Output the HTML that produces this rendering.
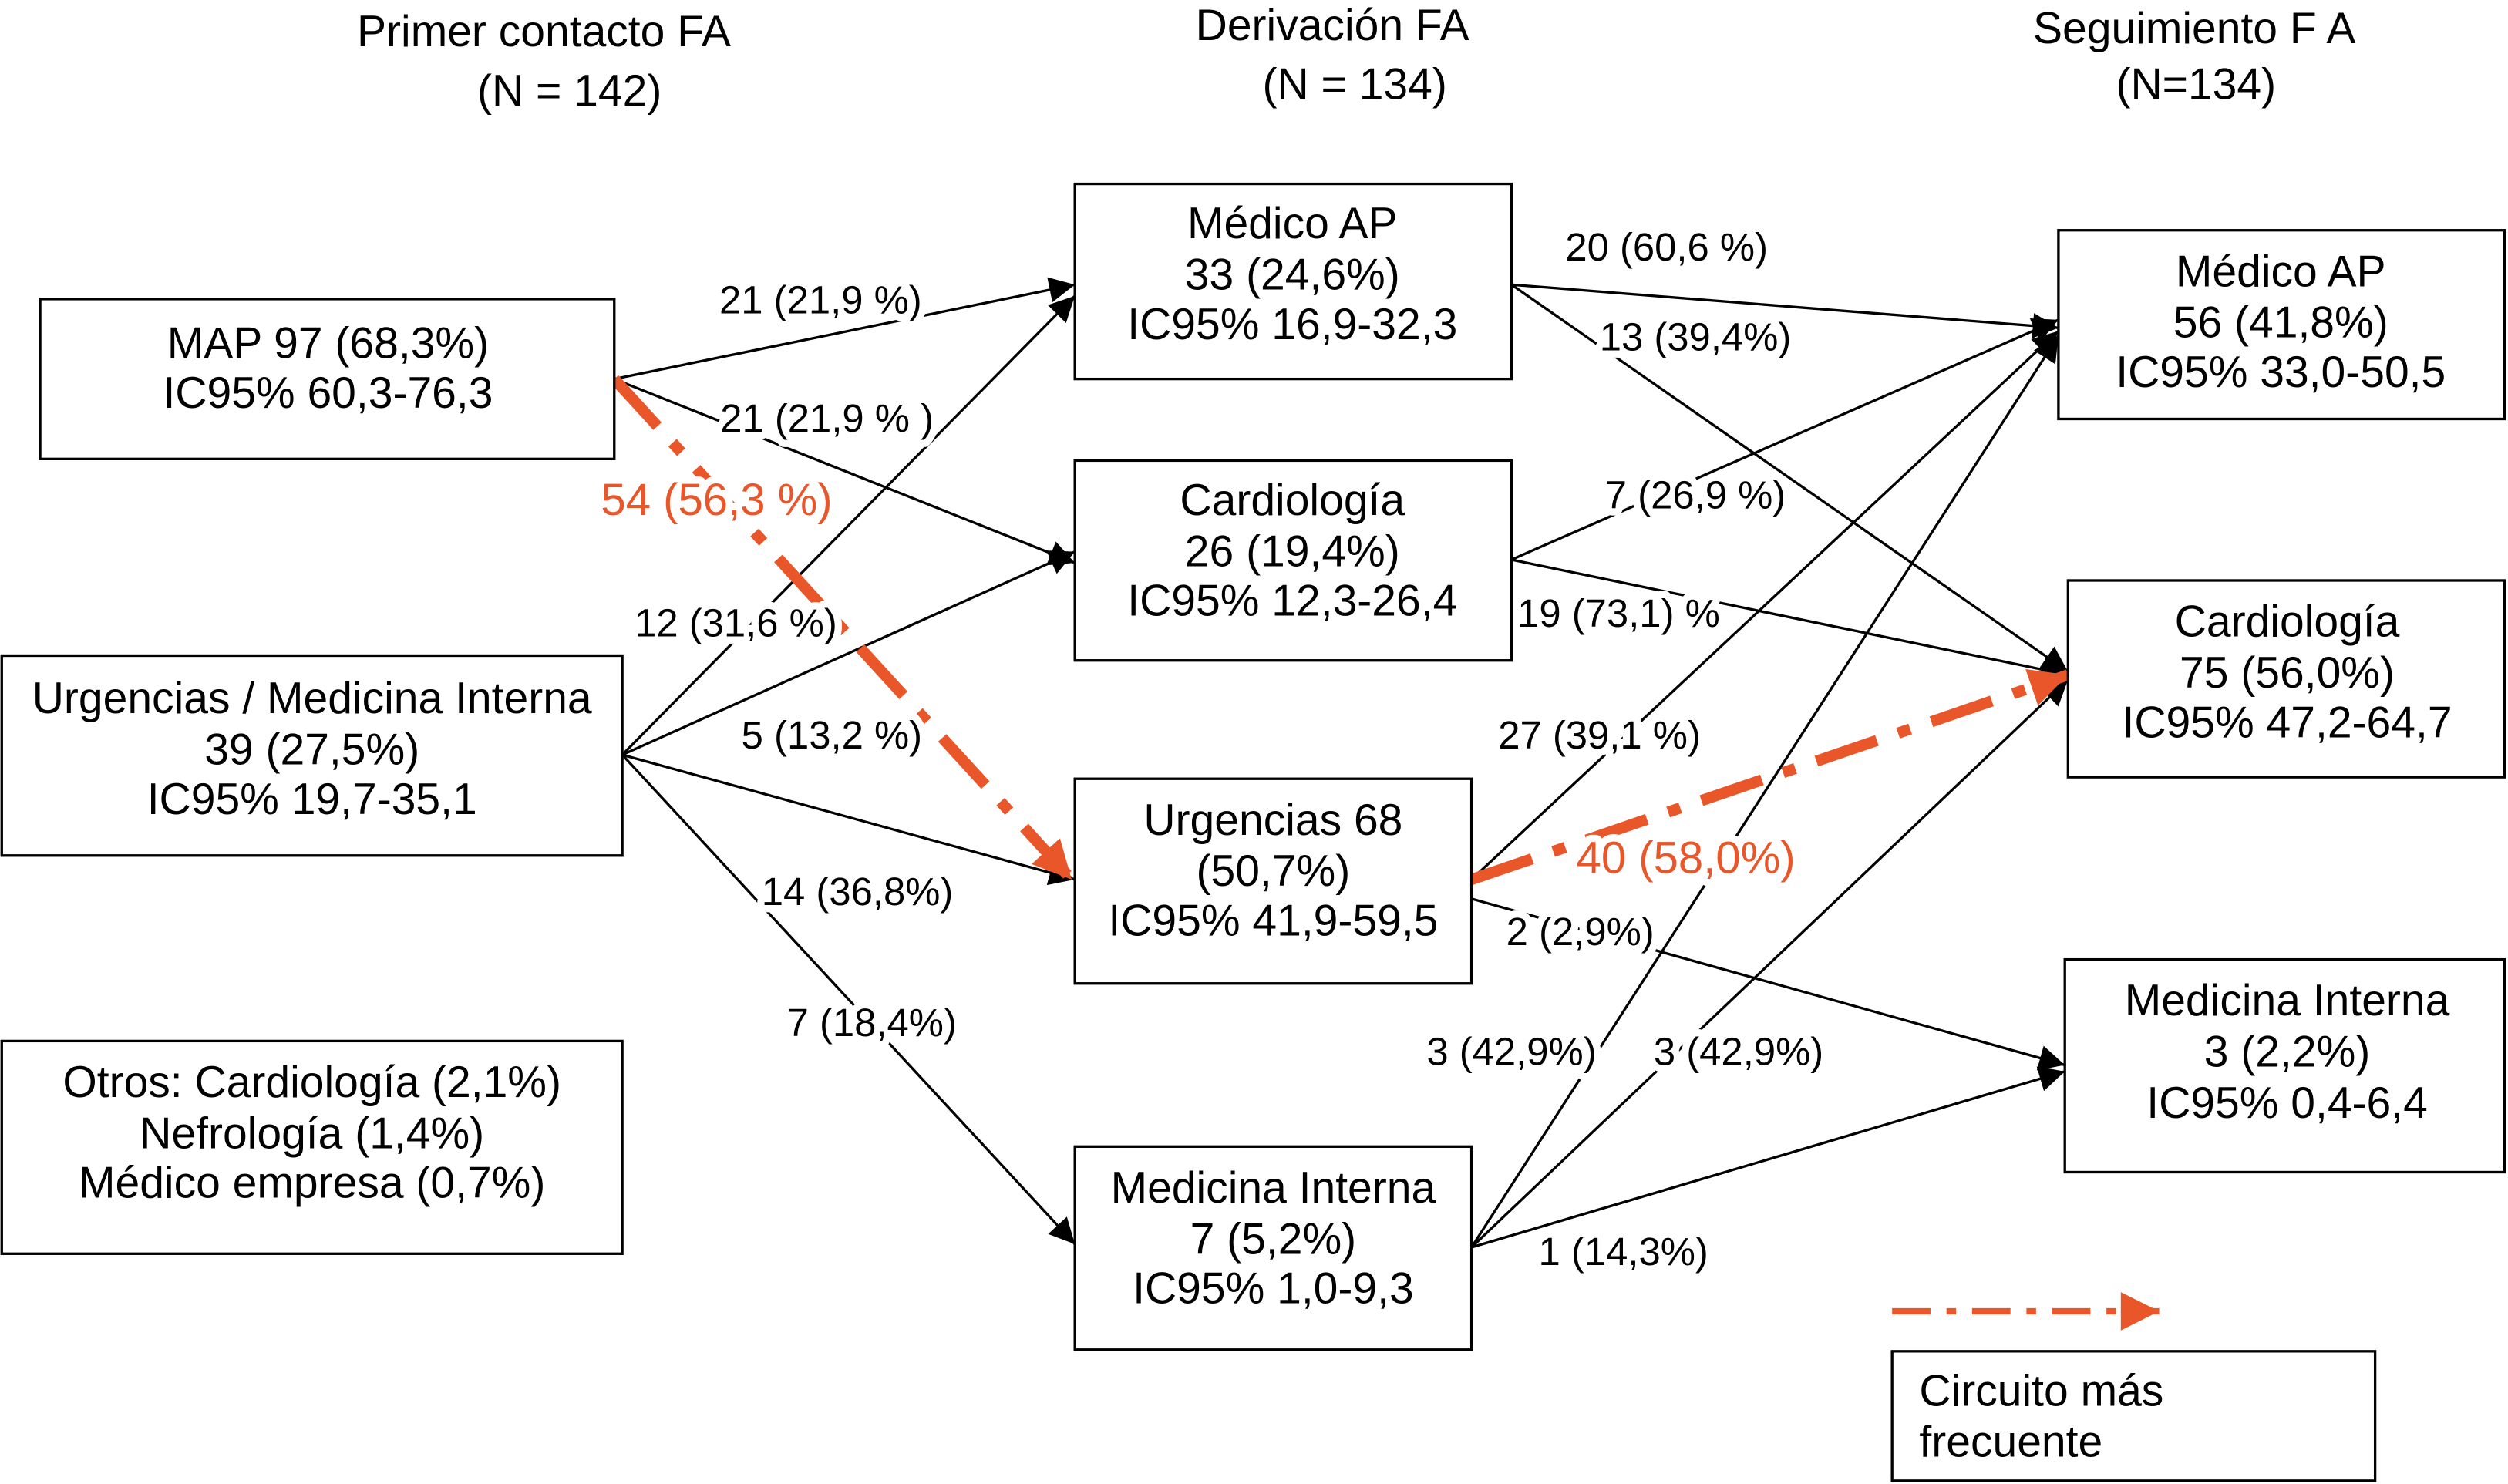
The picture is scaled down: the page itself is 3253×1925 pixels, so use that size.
<!DOCTYPE html>
<html><head><meta charset="utf-8"><style>
html,body{margin:0;padding:0;background:#fff;}
svg{display:block;}
text{font-family:"Liberation Sans",Arial,sans-serif;}
.b{font-size:27.5px;text-anchor:middle;fill:#000;}
.l{font-size:24.5px;text-anchor:middle;fill:#000;paint-order:stroke;stroke:#fff;stroke-width:9px;stroke-linejoin:round;}
.o{fill:#e8562a;font-size:28px;}
.box{fill:#fff;stroke:#000;stroke-width:1.6;}
.ln{stroke:#000;stroke-width:1.6;fill:none;}
.or{stroke:#e8562a;stroke-width:7;fill:none;stroke-dasharray:40 14 8 14;}
</style></head><body>
<svg width="3253" height="1925" viewBox="0 0 1568 928" xmlns="http://www.w3.org/2000/svg">
<defs>
<marker id="ab" viewBox="0 0 10 10" refX="10" refY="5" markerWidth="18" markerHeight="16" markerUnits="userSpaceOnUse" orient="auto"><path d="M0,0L10,5L0,10z" fill="#000"/></marker>
<marker id="ao" viewBox="0 0 10 10" refX="10" refY="5" markerWidth="26" markerHeight="24" markerUnits="userSpaceOnUse" orient="auto"><path d="M0,0L10,5L0,10z" fill="#e8562a"/></marker>
</defs>
<text class="b" x="340" y="29">Primer contacto FA</text>
<text class="b" x="356" y="66">(N = 142)</text>
<text class="b" x="833" y="25">Derivación FA</text>
<text class="b" x="847" y="62">(N = 134)</text>
<text class="b" x="1372" y="27">Seguimiento F  A</text>
<text class="b" x="1373" y="62">(N=134)</text>

<g class="ln">
<line x1="384" y1="237" x2="672" y2="178" marker-end="url(#ab)"/>
<line x1="384" y1="237" x2="672" y2="352" marker-end="url(#ab)"/>
<line x1="389" y1="472" x2="672" y2="185" marker-end="url(#ab)"/>
<line x1="389" y1="472" x2="672" y2="345" marker-end="url(#ab)"/>
<line x1="389" y1="472" x2="672" y2="550" marker-end="url(#ab)"/>
<line x1="389" y1="472" x2="672" y2="778" marker-end="url(#ab)"/>
<line x1="945" y1="178" x2="1287" y2="205" marker-end="url(#ab)"/>
<line x1="945" y1="178" x2="1293" y2="420" marker-end="url(#ab)"/>
<line x1="945" y1="350" x2="1287" y2="200" marker-end="url(#ab)"/>
<line x1="945" y1="350" x2="1293" y2="422" marker-end="url(#ab)"/>
<line x1="920" y1="550" x2="1287" y2="207" marker-end="url(#ab)"/>
<line x1="920" y1="562" x2="1291" y2="666" marker-end="url(#ab)"/>
<line x1="920" y1="780" x2="1287" y2="210" marker-end="url(#ab)"/>
<line x1="920" y1="780" x2="1293" y2="425" marker-end="url(#ab)"/>
<line x1="920" y1="780" x2="1291" y2="670" marker-end="url(#ab)"/>
</g>
<line class="or" x1="384" y1="237" x2="670" y2="550" marker-end="url(#ao)"/>
<line class="or" x1="920" y1="550" x2="1293" y2="422" marker-end="url(#ao)"/>
<line x1="1183" y1="820" x2="1350" y2="820" stroke="#e8562a" stroke-width="4" stroke-dasharray="24 10 6 10" marker-end="url(#ao)"/>

<text class="l" x="513" y="196">21 (21,9 %)</text>
<text class="l" x="517" y="270">21 (21,9 % )</text>
<text class="l o" x="448" y="322">54 (56,3  %)</text>
<text class="l" x="460" y="398">12 (31,6 %)</text>
<text class="l" x="520" y="468">5 (13,2 %)</text>
<text class="l" x="536" y="566">14 (36,8%)</text>
<text class="l" x="545" y="648">7 (18,4%)</text>
<text class="l" x="1042" y="163">20 (60,6 %)</text>
<text class="l" x="1060" y="219">13 (39,4%)</text>
<text class="l" x="1060" y="318">7 (26,9 %)</text>
<text class="l" x="1012" y="392">19 (73,1) %</text>
<text class="l" x="1000" y="468">27 (39,1 %)</text>
<text class="l o" x="1054" y="546">40 (58,0%)</text>
<text class="l" x="988" y="591">2 (2,9%)</text>
<text class="l" x="945" y="666">3 (42,9%)</text>
<text class="l" x="1087" y="666">3 (42,9%)</text>
<text class="l" x="1015" y="791">1 (14,3%)</text>

<rect class="box" x="25" y="187" width="359" height="100"/>
<text class="b" x="205" y="224">MAP 97 (68,3%)</text>
<text class="b" x="205" y="255">IC95% 60,3-76,3</text>
<rect class="box" x="1" y="410" width="388" height="125"/>
<text class="b" x="195" y="446">Urgencias / Medicina Interna</text>
<text class="b" x="195" y="478">39 (27,5%)</text>
<text class="b" x="195" y="509">IC95% 19,7-35,1</text>
<rect class="box" x="1" y="651" width="388" height="133"/>
<text class="b" x="195" y="686">Otros: Cardiología (2,1%)</text>
<text class="b" x="195" y="718">Nefrología (1,4%)</text>
<text class="b" x="195" y="749">Médico empresa (0,7%)</text>

<rect class="box" x="672" y="115" width="273" height="122"/>
<text class="b" x="808" y="149">Médico AP</text>
<text class="b" x="808" y="181">33 (24,6%)</text>
<text class="b" x="808" y="212">IC95% 16,9-32,3</text>
<rect class="box" x="672" y="288" width="273" height="125"/>
<text class="b" x="808" y="322">Cardiología</text>
<text class="b" x="808" y="354">26 (19,4%)</text>
<text class="b" x="808" y="385">IC95% 12,3-26,4</text>
<rect class="box" x="672" y="487" width="248" height="128"/>
<text class="b" x="796" y="522">Urgencias 68</text>
<text class="b" x="796" y="554">(50,7%)</text>
<text class="b" x="796" y="585">IC95% 41,9-59,5</text>
<rect class="box" x="672" y="717" width="248" height="127"/>
<text class="b" x="796" y="752">Medicina Interna</text>
<text class="b" x="796" y="784">7 (5,2%)</text>
<text class="b" x="796" y="815">IC95% 1,0-9,3</text>

<rect class="box" x="1287" y="144" width="279" height="118"/>
<text class="b" x="1426" y="179">Médico AP</text>
<text class="b" x="1426" y="211">56 (41,8%)</text>
<text class="b" x="1426" y="242">IC95% 33,0-50,5</text>
<rect class="box" x="1293" y="363" width="273" height="123"/>
<text class="b" x="1430" y="398">Cardiología</text>
<text class="b" x="1430" y="430">75 (56,0%)</text>
<text class="b" x="1430" y="461">IC95% 47,2-64,7</text>
<rect class="box" x="1291" y="600" width="275" height="133"/>
<text class="b" x="1430" y="635">Medicina Interna</text>
<text class="b" x="1430" y="667">3 (2,2%)</text>
<text class="b" x="1430" y="699">IC95% 0,4-6,4</text>

<rect class="box" x="1183" y="845" width="302" height="81"/>
<text class="b" x="1200" y="879" style="text-anchor:start">Circuito más</text>
<text class="b" x="1200" y="911" style="text-anchor:start">frecuente</text>
</svg>
</body></html>
